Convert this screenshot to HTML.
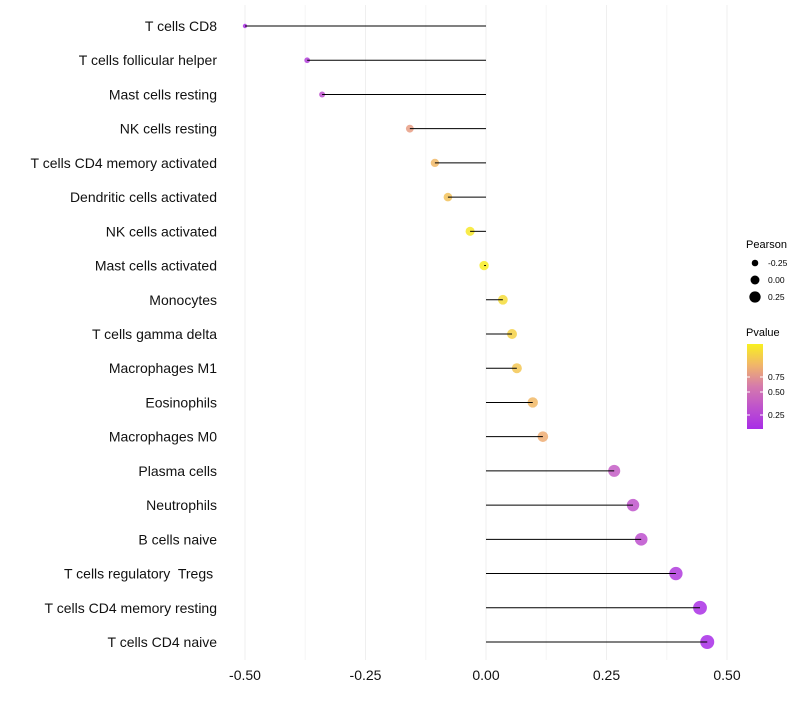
<!DOCTYPE html>
<html><head><meta charset="utf-8"><style>
body{margin:0;background:#fff;font-family:"Liberation Sans",sans-serif}
svg text{font-family:"Liberation Sans",sans-serif;white-space:pre}
</style></head><body>
<svg id="chart" width="800" height="700"></svg>
<script>
const categories=["T cells CD8","T cells follicular helper","Mast cells resting","NK cells resting","T cells CD4 memory activated","Dendritic cells activated","NK cells activated","Mast cells activated","Monocytes","T cells gamma delta","Macrophages M1","Eosinophils","Macrophages M0","Plasma cells","Neutrophils","B cells naive","T cells regulatory  Tregs ","T cells CD4 memory resting","T cells CD4 naive"];
const pearson=[-0.50,-0.371,-0.34,-0.158,-0.106,-0.079,-0.033,-0.004,0.035,0.054,0.064,0.097,0.118,0.266,0.305,0.322,0.394,0.444,0.459];
const pvalue=[0.1,0.2,0.3,0.68,0.78,0.82,0.97,0.99,0.92,0.88,0.84,0.78,0.74,0.38,0.33,0.3,0.17,0.1,0.08];
const xTicks=[-0.5,-0.25,0,0.25,0.5];
const xTickLabels=["-0.50","-0.25","0.00","0.25","0.50"];
const svg=document.getElementById('chart');const NS="http://www.w3.org/2000/svg";
function mk(t,a,p){const e=document.createElementNS(NS,t);for(const k in a)e.setAttribute(k,a[k]);(p||svg).appendChild(e);return e;}
const x=v=>486+v*482;
const y=i=>26+i*(616/18);
const r=v=>4.7+5*v;
const stops=[[0,[160,32,240]],[0.5,[208,112,184]],[0.75,[240,176,112]],[1,[248,240,32]]];
function col(p){for(let i=1;i<stops.length;i++){if(p<=stops[i][0]){const a=stops[i-1],b=stops[i],t=(p-a[0])/(b[0]-a[0]);return 'rgb('+a[1].map((c,j)=>Math.round(c+(b[1][j]-c)*t)).join(',')+')';}}return 'rgb(248,240,32)';}
for(let v=-0.5;v<=0.501;v+=0.125){const g=mk('line',{x1:x(v),x2:x(v),y1:5,y2:660,stroke:Math.abs((v*4)%1)<1e-6?'#efefef':'#f6f6f6','stroke-width':1});
}
xTicks.forEach((v,i)=>{const t=mk('text',{x:x(v),y:680,'text-anchor':'middle','font-size':14,fill:'#111'});t.textContent=xTickLabels[i];
});
categories.forEach((c,i)=>{
const t=mk('text',{x:217,y:y(i)+5,'text-anchor':'end','font-size':14,fill:'#111'});t.textContent=c;

const d=mk('circle',{cx:x(pearson[i]),cy:y(i),r:r(pearson[i]),fill:col(pvalue[i]),'fill-opacity':0.85});

const l=mk('line',{x1:x(0),x2:x(pearson[i]),y1:y(i),y2:y(i),stroke:'#000','stroke-width':1});

});
const lt=mk('text',{x:746,y:248,'font-size':11});lt.textContent='Pearson';

[[-0.25,263],[0,280],[0.25,297]].forEach(([v,yy])=>{const c=mk('circle',{cx:755,cy:yy,r:r(v)*0.95,fill:'#000'});

const t=mk('text',{x:768,y:yy+3,'font-size':8.5});t.textContent=v===-0.25?'-0.25':v.toFixed(2);
});
const pt=mk('text',{x:746,y:336,'font-size':11});pt.textContent='Pvalue';

const defs=mk('defs',{});const lg=mk('linearGradient',{id:'g',x1:0,y1:1,x2:0,y2:0},defs);
[0,0.25,0.5,0.75,1].forEach(s=>mk('stop',{offset:s,'stop-color':col(0.08+s*0.92)},lg));
const cb=mk('rect',{x:747,y:344,width:16,height:85,fill:'url(#g)'});

[['0.75',377],['0.50',392],['0.25',415]].forEach(([s,yy])=>{mk('line',{x1:747,x2:750,y1:yy,y2:yy,stroke:'#fff'});mk('line',{x1:760,x2:763,y1:yy,y2:yy,stroke:'#fff'});
const t=mk('text',{x:768,y:yy+3,'font-size':8.5});t.textContent=s;
});
</script>
</body></html>
